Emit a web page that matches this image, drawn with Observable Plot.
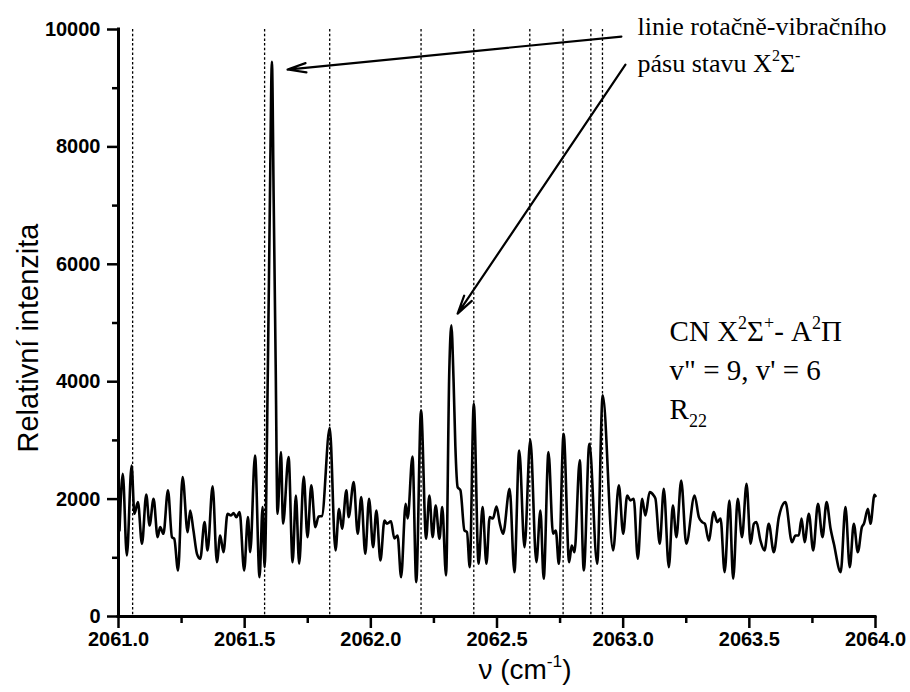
<!DOCTYPE html>
<html><head><meta charset="utf-8">
<script src="https://cdn.jsdelivr.net/npm/d3@7"></script>
<script src="https://cdn.jsdelivr.net/npm/@observablehq/plot@0.6"></script>
<style>html,body{margin:0;padding:0;background:#fff;} #chart{width:910px;height:692px;}</style>
</head><body><div id="chart"></div>
<script>
// wavenumber (cm^-1) and relative intensity
const wavenumber = [
2061.004, 2061.017, 2061.033, 2061.052, 2061.063, 2061.077, 2061.093, 2061.110, 2061.123, 2061.139,
2061.155, 2061.165, 2061.178, 2061.196, 2061.212, 2061.221, 2061.236, 2061.254, 2061.274, 2061.284,
2061.297, 2061.311, 2061.324, 2061.341, 2061.353, 2061.373, 2061.390, 2061.403, 2061.416, 2061.432,
2061.446, 2061.456, 2061.467, 2061.480, 2061.498, 2061.513, 2061.522, 2061.541, 2061.559, 2061.571,
2061.579, 2061.592, 2061.600, 2061.608, 2061.615, 2061.623, 2061.630, 2061.644, 2061.652, 2061.674,
2061.690, 2061.703, 2061.716, 2061.734, 2061.749, 2061.764, 2061.780, 2061.793, 2061.806, 2061.837,
2061.860, 2061.874, 2061.886, 2061.903, 2061.912, 2061.932, 2061.948, 2061.962, 2061.978, 2061.993,
2062.009, 2062.022, 2062.038, 2062.054, 2062.064, 2062.080, 2062.093, 2062.106, 2062.120, 2062.138,
2062.146, 2062.165, 2062.180, 2062.199, 2062.219, 2062.232, 2062.245, 2062.257, 2062.272, 2062.283,
2062.298, 2062.311, 2062.319, 2062.328, 2062.335, 2062.344, 2062.355, 2062.371, 2062.381, 2062.392,
2062.408, 2062.427, 2062.443, 2062.458, 2062.471, 2062.484, 2062.498, 2062.511, 2062.524, 2062.550,
2062.569, 2062.588, 2062.609, 2062.632, 2062.656, 2062.672, 2062.685, 2062.704, 2062.722, 2062.733,
2062.745, 2062.764, 2062.786, 2062.796, 2062.807, 2062.828, 2062.844, 2062.866, 2062.897, 2062.919,
2062.960, 2062.983, 2063.000, 2063.016, 2063.029, 2063.042, 2063.058, 2063.075, 2063.088, 2063.105,
2063.121, 2063.128, 2063.145, 2063.161, 2063.181, 2063.197, 2063.211, 2063.230, 2063.250, 2063.283,
2063.300, 2063.313, 2063.324, 2063.339, 2063.359, 2063.373, 2063.386, 2063.402, 2063.421, 2063.436,
2063.454, 2063.471, 2063.489, 2063.505, 2063.518, 2063.528, 2063.544, 2063.560, 2063.577, 2063.597,
2063.617, 2063.643, 2063.669, 2063.683, 2063.696, 2063.707, 2063.719, 2063.736, 2063.753, 2063.772,
2063.790, 2063.806, 2063.822, 2063.835, 2063.862, 2063.881, 2063.898, 2063.914, 2063.930, 2063.946,
2063.954, 2063.970, 2063.980, 2063.996, 2064.000
];
const intensity = [
1466, 2432, 1040, 2573, 1750, 1948, 1239, 2079, 1551, 2006,
1352, 1522, 1409, 2148, 1352, 1324, 784, 2375, 1437, 1807,
1466, 1068, 983, 1608, 1125, 2216, 926, 1381, 1096, 1750,
1721, 1761, 1693, 1778, 784, 1693, 1096, 2744, 670, 1863,
840, 4250, 7090, 9448, 7090, 4250, 1750, 2801, 1579, 2716,
926, 2062, 898, 2386, 1352, 2233, 1522, 1704, 1710, 3216,
1125, 1835, 1494, 2148, 1693, 2289, 1409, 2034, 1068, 2006,
1181, 1807, 954, 1636, 1580, 1620, 1330, 1380, 670, 1920,
1670, 2727, 585, 3511, 1324, 2062, 1352, 1892, 1324, 1863,
699, 4200, 4960, 4000, 2900, 2204, 2150, 1466, 1440, 840,
3625, 898, 1863, 898, 1693, 1670, 1875, 1590, 1409, 2176,
756, 2829, 1181, 3011, 926, 1807, 642, 2801, 1409, 1466,
898, 3114, 926, 1209, 1096, 2659, 784, 2943, 898, 3767,
1125, 2233, 1409, 2062, 1977, 2006, 983, 2006, 1721, 2119,
2062, 2006, 1239, 2176, 840, 1892, 1352, 2318, 1239, 2062,
1693, 1608, 1579, 1295, 1778, 1608, 1670, 756, 1977, 642,
2006, 1352, 2261, 1239, 1579, 1608, 1295, 1125, 1579, 1096,
1693, 1948, 1267, 1380, 1380, 1670, 1267, 1750, 1125, 1920,
1352, 1948, 1494, 1239, 756, 1863, 840, 1579, 1096, 1522,
1580, 1835, 1579, 2074, 2050
];
// positions of the rotational-vibrational lines (dashed markers)
const lineMarkers = [2061.056, 2061.579, 2061.837, 2062.199, 2062.408, 2062.630, 2062.762, 2062.872, 2062.918];
// ticks
const xMajor = [2061.0, 2061.5, 2062.0, 2062.5, 2063.0, 2063.5, 2064.0];
const xMinor = [2061.25, 2061.75, 2062.25, 2062.75, 2063.25, 2063.75];
const yMajor = [0, 2000, 4000, 6000, 8000, 10000];
const yMinor = [1000, 3000, 5000, 7000, 9000];
// titles
const xTitle = "ν (cm^{-1})";
const yTitle = "Relativní intenzita";
// annotation arrows (data units)
const arrowFromX = [2062.993, 2063.009];
const arrowFromY = [9880, 9400];
const arrowToX = [2061.670, 2062.344];
const arrowToY = [9318, 5159];
// annotation texts
const topLabels = ["linie rotačně-vibračního", "pásu stavu X^{2}Σ^{-}"];
const topLabelX = 2063.057;
const topLabelY = [9900, 9270];
const bandLabels = ["CN X^{2}Σ^{+}- A^{2}Π", "v\" = 9, v' = 6", "R_{22}"];
const bandLabelX = 2063.184;
const bandLabelY = [4692, 4022, 3370];

const spectrum = wavenumber.map((x, i) => ({x, y: intensity[i]}));
const arrows = arrowFromX.map((x1, i) => ({x1, y1: arrowFromY[i], x2: arrowToX[i], y2: arrowToY[i]}));
const topText = topLabels.map((t, i) => ({t, x: topLabelX, y: topLabelY[i]}));
const bandText = bandLabels.map((t, i) => ({t, x: bandLabelX, y: bandLabelY[i]}));

const serif = "'Liberation Serif', 'Times New Roman', serif";
const chart = Plot.plot({
  width: 910, height: 692,
  marginLeft: 118, marginRight: 35, marginTop: 29, marginBottom: 76,
  x: {domain: [2061, 2064]},
  y: {domain: [0, 10000]},
  style: {fontFamily: "'Liberation Sans', Arial, sans-serif", fontSize: "20px", color: "#000", background: "#fff"},
  marks: [
    Plot.ruleX(lineMarkers, {stroke: "#000", strokeWidth: 1.3, strokeDasharray: "2.5,2.2"}),
    Plot.line(spectrum, {x: "x", y: "y", curve: "monotone-x", stroke: "#000", strokeWidth: 2.6, strokeLinejoin: "round"}),
    Plot.axisY(yMajor, {tickSize: 11, tickPadding: 7, strokeWidth: 2.5, fontSize: 20, fontWeight: "bold", tickFormat: d => String(d), label: null}),
    Plot.axisY(yMinor, {tickSize: 6, strokeWidth: 2.5, fill: "none", label: null}),
    Plot.axisX(xMajor, {tickSize: 12, tickPadding: 3, strokeWidth: 2.5, fontSize: 20, fontWeight: "bold", tickFormat: d => d.toFixed(1), label: null}),
    Plot.axisX(xMinor, {tickSize: 7, strokeWidth: 2.5, fill: "none", label: null}),
    Plot.ruleX([2061], {strokeWidth: 3, strokeLinecap: "square"}),
    Plot.ruleY([0], {strokeWidth: 3, strokeLinecap: "square"}),
    Plot.arrow(arrows, {x1: "x1", y1: "y1", x2: "x2", y2: "y2", headLength: 13, headAngle: 28, strokeWidth: 2.2, stroke: "#000"}),
    Plot.text(topText, {x: "x", y: "y", text: "t", textAnchor: "start", lineAnchor: "bottom", fontSize: 26, fontFamily: serif, fill: "#000"}),
    Plot.text(bandText, {x: "x", y: "y", text: "t", textAnchor: "start", lineAnchor: "bottom", fontSize: 29, fontFamily: serif, fill: "#000"}),
    Plot.text([xTitle], {frameAnchor: "bottom", textAnchor: "middle", dx: 28, dy: 62, lineAnchor: "bottom", fontSize: 28, fill: "#000"}),
    Plot.text([yTitle], {frameAnchor: "left", textAnchor: "middle", rotate: -90, dx: -81, dy: 15, lineAnchor: "bottom", fontSize: 29, fill: "#000"})
  ]
});
document.getElementById("chart").appendChild(chart);

// turn ^{..} / _{..} markup into real superscript / subscript tspans
function richify(svg) {
  svg.querySelectorAll("text").forEach(el => {
    if (el.querySelector("tspan")) return;
    const s = el.textContent;
    if (!/[\^_]\{/.test(s)) return;
    const fs = parseFloat(getComputedStyle(el).fontSize) || 20;
    const parts = [];
    const re = /([\^_])\{([^}]*)\}/g;
    let last = 0, m;
    while ((m = re.exec(s))) {
      if (m.index > last) parts.push({t: s.slice(last, m.index), k: "n"});
      parts.push({t: m[2], k: m[1] === "^" ? "sup" : "sub"});
      last = re.lastIndex;
    }
    if (last < s.length) parts.push({t: s.slice(last), k: "n"});
    el.textContent = "";
    let cur = 0;
    for (const p of parts) {
      const ts = document.createElementNS("http://www.w3.org/2000/svg", "tspan");
      const off = p.k === "sup" ? -0.42 * fs : p.k === "sub" ? 0.3 * fs : 0;
      if (off !== cur) ts.setAttribute("dy", (off - cur).toFixed(2));
      cur = off;
      if (p.k !== "n") ts.setAttribute("font-size", (0.62 * fs).toFixed(1));
      ts.textContent = p.t;
      el.appendChild(ts);
    }
  });
}
richify(chart);
</script></body></html>
